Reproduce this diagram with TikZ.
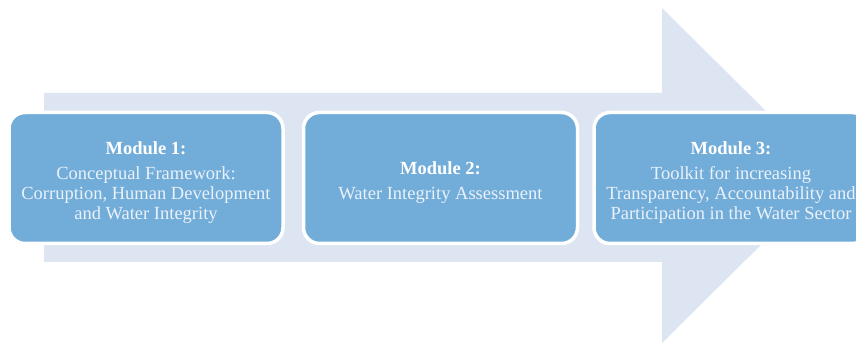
\documentclass[tikz,border=0pt]{standalone}
\usepackage{fontspec}
\setmainfont{Liberation Serif}
\usepackage{tikz}
\usetikzlibrary{positioning}
\definecolor{shaftblue}{HTML}{DCE5F1}
\definecolor{boxblue}{HTML}{72ADD9}
\definecolor{textblue}{HTML}{EAF1F9}
\tikzstyle{module} = [
    rectangle, rounded corners=16pt, minimum width=274pt, minimum height=131pt,
    draw=white, line width=3.5pt, fill=boxblue, text=textblue,
    align=center, font=\fontsize{18.5}{20}\selectfont
]
\newcommand{\modtitle}[1]{\rule{0pt}{22pt}{\color{white}\bfseries #1}\\[5pt]}

\begin{document}
\begin{tikzpicture}[x=1pt, y=1pt]
        \useasboundingbox (0,0) rectangle (856,345);
        % big arrow behind the modules
        \fill [shaftblue] (44,83) -- (662,83) -- (662,2) -- (831,169.5)
            -- (662,337) -- (662,252) -- (44,252) -- cycle;
        \node (m1) [module] at (146,167)
            {\modtitle{Module 1:}Conceptual Framework:\\
             Corruption, Human Development\\and Water Integrity};
        \node (m2) [module, right=17pt of m1]
            {\modtitle{Module 2:}Water Integrity Assessment};
        \node (m3) [module, right=13pt of m2]
            {\modtitle{Module 3:}Toolkit for increasing\\
             Transparency, Accountability and\\Participation in the Water Sector};
    \end{tikzpicture}
\end{document}
